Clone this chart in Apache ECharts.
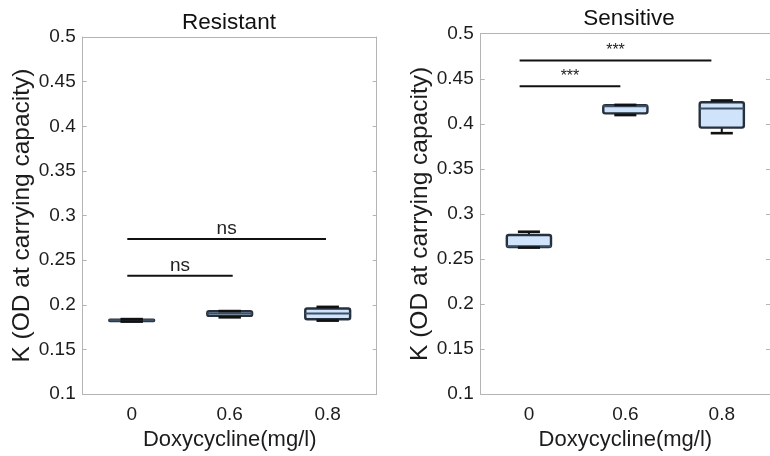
<!DOCTYPE html>
<html>
<head>
<meta charset="utf-8">
<script src="https://cdn.jsdelivr.net/npm/echarts@6/dist/echarts.min.js"></script>
<style>
  html, body { margin: 0; padding: 0; background: #fff; }
  #chart { width: 770px; height: 456px; }
</style>
</head>
<body>
<div id="chart"></div>
<script>
// categories (doxycycline dose, mg/l)
const doses = ['0', '0.6', '0.8'];

// boxes: [category index, min, q1, median, q3, max]
const resistantBox = [
  [0, 0.1812, 0.1818, 0.1826, 0.1834, 0.1840],
  [1, 0.1860, 0.1876, 0.1904, 0.1928, 0.1930],
  [2, 0.1823, 0.1839, 0.1904, 0.1958, 0.1977]
];
const sensitiveBox = [
  [0, 0.2626, 0.2633, 0.2640, 0.2765, 0.2802],
  [1, 0.4097, 0.4116, 0.4195, 0.4207, 0.4210],
  [2, 0.3896, 0.3958, 0.4171, 0.4240, 0.4259]
];

// significance brackets: [from category, to category, y value]
const resistantSig = [[0, 2, 0.2738], [0, 1, 0.2327]];
const resistantSigText = ['ns', 'ns'];
const sensitiveSig = [[0, 2, 0.4703], [0, 1, 0.4416]];
const sensitiveSigText = ['***', '***'];

const yTicks = { min: 0.1, max: 0.5, interval: 0.05 };

const FONT = 'Liberation Sans, Arial, Helvetica, sans-serif';
const AXIS_GREY = '#b4b4b4';
const TEXT = '#1c1c1c';
const BOX_FILL = '#cfe3fb';
const BOX_EDGE = '#27313d';

const myChart = echarts.init(document.getElementById('chart'));

function boxRender(params, api) {
  const x = api.value(0);
  const band = api.size([1, 0])[0];
  const half = band * 0.229;
  const cap = half * 0.5;
  const cx = api.coord([x, 0.3])[0];
  const py = (v) => api.coord([x, v])[1];
  const yMin = py(api.value(1)), yQ1 = py(api.value(2)), yMed = py(api.value(3));
  const yQ3 = py(api.value(4)), yMax = py(api.value(5));
  const lineStyle = { stroke: '#111', lineWidth: 2 };
  return {
    type: 'group',
    children: [
      { type: 'line', shape: { x1: cx, y1: yQ3, x2: cx, y2: yMax }, style: lineStyle },
      { type: 'line', shape: { x1: cx, y1: yQ1, x2: cx, y2: yMin }, style: lineStyle },
      { type: 'rect', shape: { x: cx - half, y: yQ3, width: half * 2, height: Math.max(yQ1 - yQ3, 1), r: 2 },
        style: { fill: BOX_FILL, stroke: BOX_EDGE, lineWidth: 2.4 } },
      { type: 'line', shape: { x1: cx - half, y1: yMed, x2: cx + half, y2: yMed },
        style: { stroke: '#3d5166', lineWidth: 2 } },
      { type: 'line', shape: { x1: cx - cap, y1: yMax, x2: cx + cap, y2: yMax }, style: { stroke: '#111', lineWidth: 2.6 } },
      { type: 'line', shape: { x1: cx - cap, y1: yMin, x2: cx + cap, y2: yMin }, style: { stroke: '#111', lineWidth: 2.6 } }
    ]
  };
}

function sigRender(texts, startOff, endOffs, font, textGap) {
  return function (params, api) {
    const p1 = api.coord([api.value(0), api.value(2)]);
    const p2 = api.coord([api.value(1), api.value(2)]);
    const x1 = p1[0] + startOff;
    const x2 = p2[0] + endOffs[params.dataIndex];
    return {
      type: 'group',
      children: [
        { type: 'line', shape: { x1: x1, y1: p1[1], x2: x2, y2: p1[1] },
          style: { stroke: '#111', lineWidth: 2 } },
        { type: 'text', x: (x1 + x2) / 2, y: p1[1] - textGap,
          style: { text: texts[params.dataIndex], font: font, fill: '#222',
                   align: 'center', verticalAlign: 'middle' } }
      ]
    };
  };
}

function xAxes(g) {
  return [
    {
      gridIndex: g, type: 'category', data: doses, position: 'bottom',
      axisLine: { lineStyle: { color: AXIS_GREY, width: 1 } },
      axisTick: { inside: true, alignWithLabel: true, length: 4, lineStyle: { color: AXIS_GREY } },
      axisLabel: { fontSize: 19, fontFamily: FONT, color: TEXT, margin: 11 },
      name: 'Doxycycline(mg/l)', nameLocation: 'middle', nameGap: 32,
      nameTextStyle: { fontSize: 22, fontFamily: FONT, color: TEXT }
    },
    {
      gridIndex: g, type: 'category', data: doses, position: 'top',
      axisLine: { lineStyle: { color: AXIS_GREY, width: 1 } },
      axisTick: { inside: true, alignWithLabel: true, length: 4, lineStyle: { color: AXIS_GREY } },
      axisLabel: { show: false }
    }
  ];
}

function yAxes(g) {
  return [
    {
      gridIndex: g, type: 'value', position: 'left',
      min: yTicks.min, max: yTicks.max, interval: yTicks.interval,
      axisLine: { show: true, lineStyle: { color: AXIS_GREY, width: 1 } },
      axisTick: { show: true, inside: true, length: 4, lineStyle: { color: AXIS_GREY } },
      splitLine: { show: false },
      axisLabel: { fontSize: 19, fontFamily: FONT, color: TEXT, margin: 7 },
      name: 'K (OD at carrying capacity)', nameLocation: 'middle', nameGap: 47, nameRotate: 90,
      nameTextStyle: { fontSize: 24.5, fontFamily: FONT, color: TEXT }
    },
    {
      gridIndex: g, type: 'value', position: 'right',
      min: yTicks.min, max: yTicks.max, interval: yTicks.interval,
      axisLine: { show: true, lineStyle: { color: AXIS_GREY, width: 1 } },
      axisTick: { show: true, inside: true, length: 4, lineStyle: { color: AXIS_GREY } },
      splitLine: { show: false },
      axisLabel: { show: false }
    }
  ];
}

const option = {
  animation: false,
  backgroundColor: '#fff',
  grid: [
    { left: 82.7, top: 37, right: 393.3, bottom: 61.7 },
    { left: 480.7, top: 33.7, right: -9.7, bottom: 59 }
  ],
  xAxis: xAxes(0).concat(xAxes(1)),
  yAxis: yAxes(0).concat(yAxes(1)),
  graphic: [
    { type: 'text', x: 229, y: 11, style: { text: 'Resistant', font: '22.5px ' + FONT, fill: '#111', align: 'center', verticalAlign: 'top' } },
    { type: 'text', x: 629, y: 7.5, style: { text: 'Sensitive', font: '22.5px ' + FONT, fill: '#111', align: 'center', verticalAlign: 'top' } }
  ],
  series: [
    { type: 'custom', xAxisIndex: 0, yAxisIndex: 0, data: resistantBox, renderItem: boxRender,
      encode: { x: 0, y: [1, 2, 3, 4, 5] } },
    { type: 'custom', xAxisIndex: 2, yAxisIndex: 2, data: sensitiveBox, renderItem: boxRender,
      encode: { x: 0, y: [1, 2, 3, 4, 5] } },
    { type: 'custom', xAxisIndex: 0, yAxisIndex: 0, data: resistantSig,
      renderItem: sigRender(resistantSigText, -4.4, [-1.7, 3], '19px ' + FONT, 10),
      encode: { x: [0, 1], y: 2 } },
    { type: 'custom', xAxisIndex: 2, yAxisIndex: 2, data: sensitiveSig,
      renderItem: sigRender(sensitiveSigText, -9.3, [-10.4, -5], '16px ' + FONT, 10),
      encode: { x: [0, 1], y: 2 } }
  ]
};

myChart.setOption(option);
window.addEventListener('resize', function () {
  myChart.resize();
});
</script>
</body>
</html>
